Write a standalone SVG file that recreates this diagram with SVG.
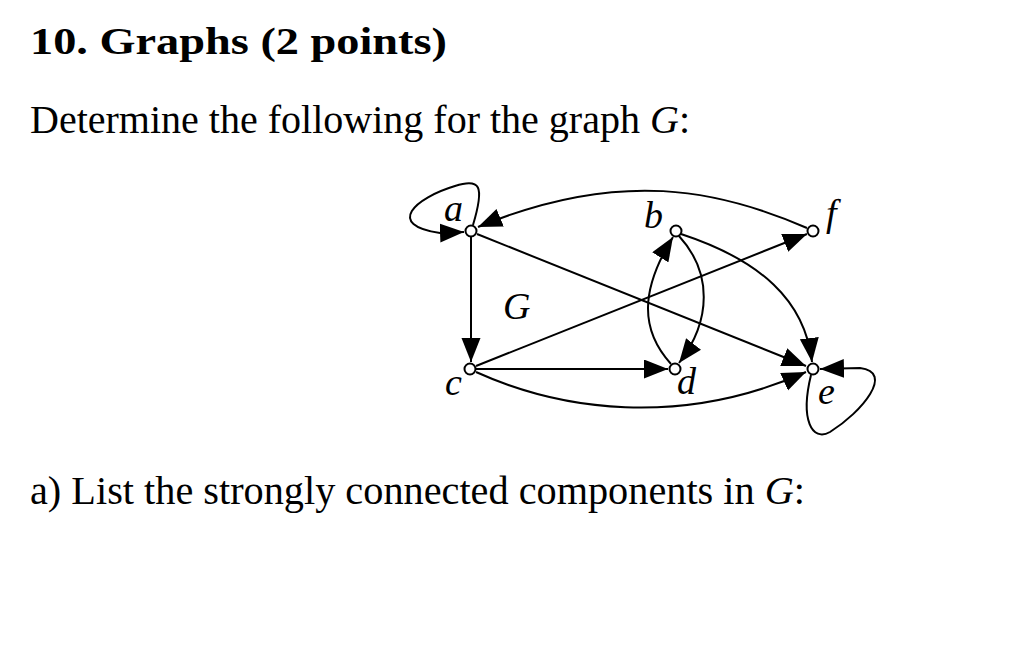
<svg xmlns="http://www.w3.org/2000/svg" width="1024" height="646" viewBox="0 0 1024 646">
<style>
.t{font-family:"Liberation Serif",serif;fill:#000}
.lab{font-family:"Liberation Serif",serif;font-style:italic;font-size:38px;fill:#000}
.e{fill:none;stroke:#000;stroke-width:2}
.n{fill:#fff;stroke:#000;stroke-width:2}
</style>
<defs>
<marker id="ar" markerUnits="userSpaceOnUse" markerWidth="26" markerHeight="20" refX="24" refY="9.5" orient="auto">
<path d="M0,0 L24,9.5 L0,19 Z" fill="#000"/>
</marker>
</defs>
<rect width="1024" height="646" fill="#fff"/>
<text class="t" x="30" y="54" font-size="37" font-weight="bold" textLength="417" lengthAdjust="spacingAndGlyphs">10. Graphs (2 points)</text>
<text class="t" x="30" y="133" font-size="39" textLength="660" lengthAdjust="spacingAndGlyphs">Determine the following for the graph <tspan font-style="italic">G</tspan>:</text>
<text class="t" x="30" y="504" font-size="39" textLength="775" lengthAdjust="spacingAndGlyphs">a) List the strongly connected components in <tspan font-style="italic">G</tspan>:</text>
<g id="edges">
<path class="e" d="M473,225 C485,185 480,178 455,186 C415,198 385,225 440,233 L464,232" marker-end="url(#ar)"/>
<path class="e" d="M807,228 C720,190 620,168 478,227" marker-end="url(#ar)"/>
<path class="e" d="M477,234 L806,366" marker-end="url(#ar)"/>
<path class="e" d="M471,237 L471,362" marker-end="url(#ar)"/>
<path class="e" d="M476,366 L807,234" marker-end="url(#ar)"/>
<path class="e" d="M476,369 L668,369" marker-end="url(#ar)"/>
<path class="e" d="M476,372 C560,410 680,428 806,372" marker-end="url(#ar)"/>
<path class="e" d="M681,234 C760,260 805,300 812,362" marker-end="url(#ar)"/>
<path class="e" d="M679,236 C712,272 712,320 679,363" marker-end="url(#ar)"/>
<path class="e" d="M671,364 C640,330 640,290 673,237" marker-end="url(#ar)"/>
<path class="e" d="M811,375 C800,420 812,442 830,432 C862,412 895,372 860,368 L820,369" marker-end="url(#ar)"/>
</g>
<g id="node-a"><circle class="n" cx="471" cy="231" r="5.5"/><text class="lab" x="444" y="221">a</text></g>
<g id="node-b"><circle class="n" cx="676" cy="231" r="5.5"/><text class="lab" x="644" y="228">b</text></g>
<g id="node-f"><circle class="n" cx="813" cy="231" r="5.5"/><text class="lab" x="826" y="226">f</text></g>
<g id="node-c"><circle class="n" cx="470" cy="369" r="5.5"/><text class="lab" x="445" y="395">c</text></g>
<g id="node-d"><circle class="n" cx="675" cy="369" r="5.5"/><text class="lab" x="677" y="394">d</text></g>
<g id="node-e"><circle class="n" cx="813" cy="369" r="5.5"/><text class="lab" x="818" y="404">e</text></g>
<text class="lab" x="503" y="319">G</text>
</svg>
